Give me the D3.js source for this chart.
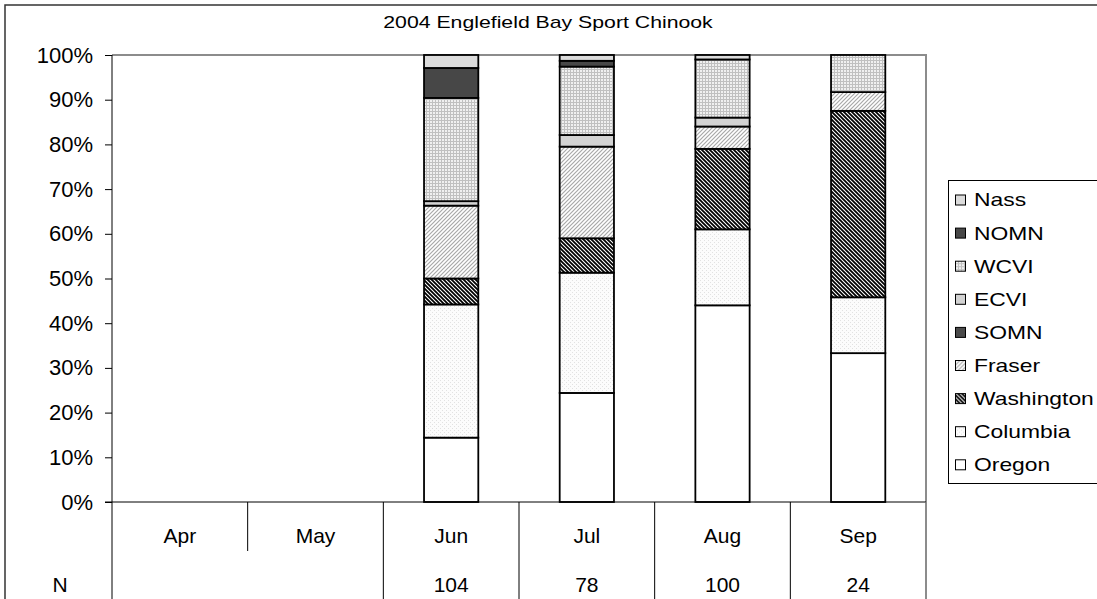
<!DOCTYPE html>
<html>
<head>
<meta charset="utf-8">
<script src="https://cdn.jsdelivr.net/npm/d3@7"></script>
<style>
  body { margin: 0; background: #fff; }
  svg { display: block; }
  text { font-family: "Liberation Sans", Arial, sans-serif; fill: #000; }
</style>
</head>
<body>
<svg id="chart" width="1097" height="599"></svg>
<script>
// Months shown along the category axis and the sample size for each
const months = ["Apr", "May", "Jun", "Jul", "Aug", "Sep"];
const sampleSizes = ["", "", "104", "78", "100", "24"];

// Stock composition (% of sample), one array per stock group, stacked bottom to top
const oregon     = [0, 0, 14.4, 24.4, 44.0, 33.3];
const columbia   = [0, 0, 29.8, 26.9, 17.0, 12.5];
const washington = [0, 0,  5.8,  7.7, 18.0, 41.7];
const fraser     = [0, 0, 16.3, 20.5,  5.0,  4.2];
const somn       = [0, 0,  0.0,  0.0,  0.0,  0.0];
const ecvi       = [0, 0,  1.0,  2.6,  2.0,  0.0];
const wcvi       = [0, 0, 23.1, 15.3, 13.0,  8.3];
const nomn       = [0, 0,  6.7,  1.3,  0.0,  0.0];
const nass       = [0, 0,  2.9,  1.3,  1.0,  0.0];

const stockNames = ["Oregon", "Columbia", "Washington", "Fraser", "SOMN", "ECVI", "WCVI", "NOMN", "Nass"];
const stockValues = [oregon, columbia, washington, fraser, somn, ecvi, wcvi, nomn, nass];

const yTicks = [0, 10, 20, 30, 40, 50, 60, 70, 80, 90, 100];
const chartTitle = "2004 Englefield Bay Sport Chinook";

const rows = months.map((m, i) => {
  const r = { month: m };
  stockNames.forEach((s, k) => { r[s] = stockValues[k][i]; });
  return r;
});

const svg = d3.select("#chart");
const plot = { left: 112, right: 926, top: 55, bottom: 502 };

// Fill patterns for each stock group
const defs = svg.append("defs");
function pat(id, size, build) {
  const p = defs.append("pattern").attr("id", id)
    .attr("patternUnits", "userSpaceOnUse").attr("width", size).attr("height", size);
  build(p);
  return `url(#${id})`;
}
const fills = {
  Oregon: "#ffffff",
  Columbia: pat("p-col", 4, p => {
    p.append("rect").attr("width", 4).attr("height", 4).attr("fill", "#fcfcfc");
    p.append("rect").attr("x", 0).attr("y", 0).attr("width", 1).attr("height", 1).attr("fill", "#e2e2e2");
    p.append("rect").attr("x", 2).attr("y", 2).attr("width", 1).attr("height", 1).attr("fill", "#e2e2e2");
  }),
  Washington: pat("p-wa", 4, p => {
    p.append("rect").attr("width", 4).attr("height", 4).attr("fill", "#ffffff");
    p.append("path").attr("d", "M-1,-1 L5,5 M-1,3 L1,5 M3,-1 L5,1")
      .attr("stroke", "#000").attr("stroke-width", 1.8);
  }),
  Fraser: pat("p-fr", 4, p => {
    p.append("rect").attr("width", 4).attr("height", 4).attr("fill", "#ffffff");
    p.append("path").attr("d", "M-1,5 L5,-1 M-1,1 L1,-1 M3,5 L5,3")
      .attr("stroke", "#a8a8a8").attr("stroke-width", 1.2);
  }),
  SOMN: "#4a4a4a",
  ECVI: "#d3d3d3",
  WCVI: pat("p-wc", 3, p => {
    p.append("rect").attr("width", 3).attr("height", 3).attr("fill", "#f0f0f0");
    p.append("rect").attr("x", 0).attr("y", 0).attr("width", 3).attr("height", 1).attr("fill", "#c0c0c0");
    p.append("rect").attr("x", 0).attr("y", 0).attr("width", 1).attr("height", 3).attr("fill", "#c0c0c0");
  }),
  NOMN: "#474747",
  Nass: "#dcdcdc"
};

// Scales
const x = d3.scaleBand().domain(months)
  .range([plot.left, plot.right]).paddingInner(0.6).paddingOuter(0.3);
const step = x.step();
const y = d3.scaleLinear().domain([0, 100]).range([plot.bottom, plot.top]);

// Outer chart border (top and left visible)
svg.append("rect").attr("x", 5).attr("y", 5).attr("width", 1200).attr("height", 700)
  .attr("fill", "none").attr("stroke", "#333").attr("stroke-width", 1.5);

// Title (drawn slightly widened)
svg.append("text").attr("transform", "translate(548,28) scale(1.25,1)")
  .attr("text-anchor", "middle").style("font-size", "17px").text(chartTitle);

// Plot area border (top and right, grey)
svg.append("path")
  .attr("d", `M${plot.left},${plot.top} H${plot.right} V${plot.bottom}`)
  .attr("fill", "none").attr("stroke", "#8c8c8c").attr("stroke-width", 2);

// Stacked bars
const series = d3.stack().keys(stockNames)(rows);
svg.append("g").selectAll("g").data(series).join("g")
  .attr("fill", d => fills[d.key])
  .selectAll("rect").data(d => d.filter(s => s[1] - s[0] > 0)).join("rect")
  .attr("x", d => x(d.data.month))
  .attr("width", x.bandwidth())
  .attr("y", d => y(d[1]))
  .attr("height", d => y(d[0]) - y(d[1]))
  .attr("stroke", "#000").attr("stroke-width", 1.8);

// Y axis
const yAxis = svg.append("g").attr("transform", `translate(${plot.left},0)`)
  .call(d3.axisLeft(y).tickValues(yTicks).tickSize(7).tickPadding(12).tickFormat(d => d + "%"));
yAxis.select(".domain").remove();
yAxis.selectAll("line").attr("stroke", "#000");
yAxis.selectAll("text").style("font-size", "22px").attr("font-family", null);

// Axis line running down through the table
svg.append("line").attr("x1", plot.left).attr("x2", plot.left)
  .attr("y1", plot.top).attr("y2", 599).attr("stroke", "#000");
// Baseline
svg.append("line").attr("x1", plot.left - 7).attr("x2", plot.right)
  .attr("y1", y(0)).attr("y2", y(0)).attr("stroke", "#000");
// Right edge continuing through the table
svg.append("line").attr("x1", plot.right).attr("x2", plot.right)
  .attr("y1", y(0)).attr("y2", 599).attr("stroke", "#666").attr("stroke-width", 1.5);

// Category table: separators, month labels, sample sizes
months.forEach((m, i) => {
  if (i === 0) return;
  const sx = plot.left + i * step;
  svg.append("line").attr("x1", sx).attr("x2", sx)
    .attr("y1", y(0)).attr("y2", i === 1 ? 551 : 599).attr("stroke", "#000");
});
svg.append("g").selectAll("text").data(months).join("text")
  .attr("x", d => x(d) + x.bandwidth() / 2).attr("y", 543)
  .attr("text-anchor", "middle").style("font-size", "21px").text(d => d);
svg.append("g").selectAll("text").data(months).join("text")
  .attr("x", d => x(d) + x.bandwidth() / 2).attr("y", 592)
  .attr("text-anchor", "middle").style("font-size", "21px")
  .text((d, i) => sampleSizes[i]);
svg.append("text").attr("x", 60).attr("y", 592).attr("text-anchor", "middle")
  .style("font-size", "21px").text("N");

// Legend (top to bottom in reverse stacking order)
const legendOrder = stockNames.slice().reverse();
const legend = svg.append("g");
legend.append("rect").attr("x", 948.5).attr("y", 180.5).attr("width", 200).attr("height", 303)
  .attr("fill", "#fff").attr("stroke", "#000");
const li = legend.selectAll("g").data(legendOrder).join("g")
  .attr("transform", (d, i) => `translate(955,${200 + i * 33.1})`);
li.append("rect").attr("x", 0.5).attr("y", -5).attr("width", 10).attr("height", 10)
  .attr("fill", d => fills[d]).attr("stroke", "#000").attr("stroke-width", 1);
li.append("text").attr("transform", "translate(19,0) scale(1.27,1)").attr("dy", "0.36em")
  .style("font-size", "18px").text(d => d);
</script>
</body>
</html>
